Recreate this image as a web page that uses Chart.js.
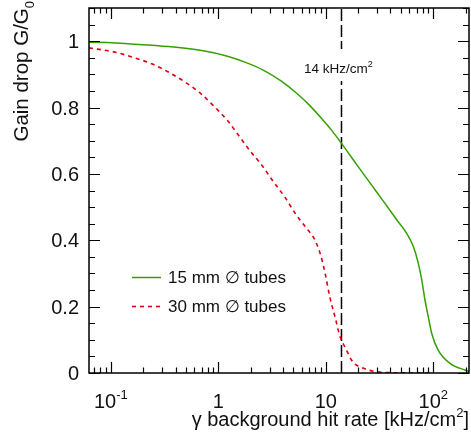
<!DOCTYPE html>
<html>
<head>
<meta charset="utf-8">
<script src="https://cdn.jsdelivr.net/npm/chart.js@4/dist/chart.umd.min.js"></script>
<style>
  html, body { margin: 0; padding: 0; background: #fff; }
  #wrap { width: 471px; height: 434px; }
</style>
</head>
<body>
<div id="wrap"><canvas id="gainChart" width="471" height="434"></canvas></div>
<script>
// Gain drop vs. gamma background hit rate
var rate15 = [0.0627, 0.071, 0.168, 0.343, 0.70, 1.15, 1.77, 2.62, 3.8, 5.36, 7.0, 9.15, 11.5, 14, 19.7,
  27.6, 34.3, 45.7, 56.6, 65.3, 72.5, 78.2, 83.7, 89.8, 96.6, 111, 143, 197, 215];
var gain15 = [0.997, 0.997, 0.991, 0.984, 0.972, 0.957, 0.937, 0.913, 0.881, 0.843, 0.808, 0.767, 0.729, 0.692, 0.625,
  0.560, 0.518, 0.462, 0.421, 0.381, 0.331, 0.280, 0.220, 0.170, 0.120, 0.069, 0.029, 0.009, 0.005];

var rate30 = [0.0627, 0.109, 0.162, 0.24, 0.343, 0.49, 0.676, 0.898, 1.24, 1.53, 1.97, 2.53, 3.25,
  4.17, 5.17, 6.63, 7.8, 8.83, 9.84, 10.9, 12.2, 13.6, 15.1, 17.9, 22.2, 28, 40, 95];
var gain30 = [0.980, 0.967, 0.951, 0.932, 0.907, 0.877, 0.844, 0.806, 0.758, 0.718, 0.670, 0.627, 0.577,
  0.530, 0.482, 0.436, 0.405, 0.362, 0.302, 0.229, 0.169, 0.109, 0.078, 0.033, 0.015, 0.005, 0.001, 0];

var seriesLabels = ['15 mm \u2205 tubes', '30 mm \u2205 tubes'];
var markerRate = 14;
var markerText = ['14 kHz/cm', '2'];

var xTickValues = [0.1, 1, 10, 100];
var xTickLabels = [['10', '-1'], ['1', ''], ['10', ''], ['10', '2']];
var yTickValues = [0, 0.2, 0.4, 0.6, 0.8, 1];
var yTickLabels = ['0', '0.2', '0.4', '0.6', '0.8', '1'];

var xTitle = ['\u03b3 background hit rate [kHz/cm', '2', ']'];
var yTitle = ['Gain drop G/G', '0'];

function toPoints(xs, ys) {
  return xs.map(function (x, i) { return { x: x, y: ys[i] }; });
}

var FONT = '"Liberation Sans", Arial, Helvetica, sans-serif';
var INK = '#111';

// draws [normal, small, normal...] pieces, returns total width
function pieces(c, parts, size, shift, draw, x, y) {
  var w = 0;
  parts.forEach(function (p, i) {
    var small = i % 2 === 1;
    c.font = (small ? Math.round(size * 0.65) : size) + 'px ' + FONT;
    if (draw) {
      c.fillText(p, x + w, small ? y + shift * size : y);
    }
    w += c.measureText(p).width;
  });
  return w;
}

var framePlugin = {
  id: 'rootFrame',
  beforeDatasetsDraw: function (chart) {
    var c = chart.ctx;
    c.save();
    c.fillStyle = '#fff';
    c.fillRect(0, 0, chart.width, chart.height);
    c.restore();
  },
  afterDatasetsDraw: function (chart) {
    var c = chart.ctx;
    var a = chart.chartArea;
    var xs = chart.scales.x;
    var ys = chart.scales.y;
    c.save();

    // label box over the marker line
    var mx = xs.getPixelForValue(markerRate);
    c.fillStyle = '#fff';
    c.fillRect(mx - 41, 49, 82, 32);
    c.fillStyle = INK;
    c.textBaseline = 'alphabetic';
    var mw = pieces(c, markerText, 13.5, -0.42, false);
    pieces(c, markerText, 13.5, -0.42, true, mx - mw / 2 - 3, 73);

    // frame
    c.strokeStyle = '#000';
    c.lineWidth = 1.5;
    c.strokeRect(a.left, a.top, a.right - a.left, a.bottom - a.top);

    // x ticks, bottom and top, pointing inward
    c.lineWidth = 1.2;
    c.beginPath();
    for (var e = -2; e <= 2; e++) {
      for (var k = 1; k <= 9; k++) {
        var v = k * Math.pow(10, e);
        if (v < xs.min || v > xs.max) continue;
        var px = Math.round(xs.getPixelForValue(v)) + 0.5;
        var len = k === 1 ? 11 : 5.5;
        c.moveTo(px, a.bottom); c.lineTo(px, a.bottom - len);
        c.moveTo(px, a.top); c.lineTo(px, a.top + len);
      }
    }
    // y ticks, left and right
    for (var j = 0; j <= 22; j++) {
      var py = Math.round(ys.getPixelForValue(j * 0.05)) + 0.5;
      var l2 = j % 4 === 0 ? 11 : 6;
      c.moveTo(a.left, py); c.lineTo(a.left + l2, py);
      c.moveTo(a.right, py); c.lineTo(a.right - l2, py);
    }
    c.stroke();

    // y tick labels
    c.fillStyle = INK;
    c.font = '20px ' + FONT;
    c.textAlign = 'right';
    yTickValues.forEach(function (v, i) {
      c.fillText(yTickLabels[i], a.left - 10, ys.getPixelForValue(v) + 7);
    });

    // x tick labels
    c.textAlign = 'left';
    xTickValues.forEach(function (v, i) {
      var w = pieces(c, xTickLabels[i], 20, -0.45, false);
      pieces(c, xTickLabels[i], 20, -0.45, true, xs.getPixelForValue(v) - w / 2, 408);
    });

    // x title, right aligned
    var tw = pieces(c, xTitle, 20, -0.45, false);
    pieces(c, xTitle, 20, -0.45, true, chart.width - 2 - tw, 426);

    // y title, rotated, right aligned at the top
    c.save();
    c.translate(28, 1);
    c.rotate(-Math.PI / 2);
    var yw = pieces(c, yTitle, 20.5, 0.3, false);
    pieces(c, yTitle, 20.5, 0.3, true, -yw, 0);
    c.restore();

    // legend
    var rows = [277, 306];
    [0, 1].forEach(function (i) {
      var ds = chart.data.datasets[i];
      c.strokeStyle = ds.borderColor;
      c.lineWidth = ds.borderWidth;
      c.setLineDash(ds.borderDash || []);
      c.beginPath();
      c.moveTo(132, rows[i] + 0.5);
      c.lineTo(161, rows[i] + 0.5);
      c.stroke();
      c.setLineDash([]);
      c.fillStyle = INK;
      c.font = '17px ' + FONT;
      c.textAlign = 'left';
      c.fillText(ds.label, 168, rows[i] + 6);
    });

    c.restore();
  }
};

new Chart(document.getElementById('gainChart'), {
  type: 'line',
  data: {
    datasets: [
      {
        label: seriesLabels[0],
        data: toPoints(rate15, gain15),
        borderColor: '#36a000',
        borderWidth: 1.5,
        pointRadius: 0,
        fill: false,
        cubicInterpolationMode: 'monotone'
      },
      {
        label: seriesLabels[1],
        data: toPoints(rate30, gain30),
        borderColor: '#dc0010',
        borderWidth: 1.6,
        borderDash: [4, 4],
        pointRadius: 0,
        fill: false,
        cubicInterpolationMode: 'monotone'
      },
      {
        label: 'marker',
        data: [{ x: markerRate, y: 0 }, { x: markerRate, y: 1.1 }],
        borderColor: '#000',
        borderWidth: 1.5,
        borderDash: [12, 4],
        pointRadius: 0,
        fill: false
      }
    ]
  },
  options: {
    responsive: false,
    animation: false,
    devicePixelRatio: 1,
    events: [],
    layout: { padding: { left: 89, right: 2, top: 8, bottom: 61 } },
    scales: {
      x: { type: 'logarithmic', min: 0.0627, max: 215, display: false },
      y: { type: 'linear', min: 0, max: 1.1, display: false }
    },
    plugins: {
      legend: { display: false },
      tooltip: { enabled: false }
    }
  },
  plugins: [framePlugin]
});
</script>
</body>
</html>
